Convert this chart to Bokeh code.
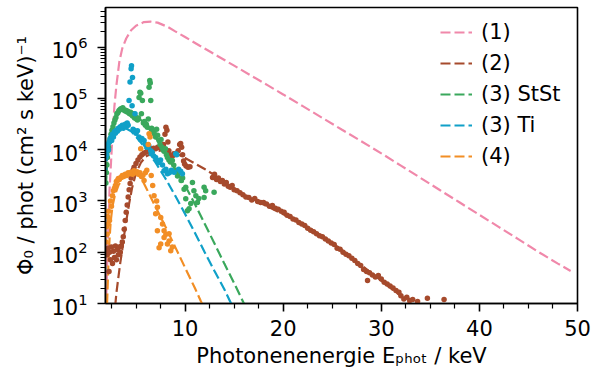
from bokeh.plotting import figure
from bokeh.models import Legend, LegendItem, FixedTicker, Range1d
from bokeh.embed import file_html
from bokeh.resources import INLINE

# ---------------- data (photon energy in keV, flux in phot/(cm^2 s keV)) ----------------
# (1) model curve
e1 = [1.93, 2.1, 2.3, 2.45, 2.6, 2.8, 3.0, 3.3, 3.6, 4.0, 4.5, 5.0, 5.8, 6.5, 7.2, 8.2, 9.0,
      10, 11.5, 13.3, 15, 16.7, 18.4, 20, 22, 24, 26, 28, 30, 32, 34, 36, 38, 40, 42, 44, 46, 48, 49.3]
f1 = [8, 100, 1600, 5600, 2.0e4, 7.1e4, 1.8e5, 5.2e5, 9.5e5, 1.48e6, 2.14e6, 2.63e6, 3.09e6, 3.16e6,
      3.02e6, 2.51e6, 2.04e6, 1.58e6, 1.07e6, 6.76e5, 4.37e5, 2.82e5, 1.82e5, 1.2e5, 7.08e4, 4.17e4, 2.45e4,
      1.45e4, 8.51e3, 4.9e3, 2.82e3, 1.62e3, 933, 537, 309, 178, 102, 60, 43]

# (2) model curve and measured points
e2 = [2.88, 3.0, 3.2, 3.4, 3.6, 3.8, 4.0, 4.3, 4.6, 5.0, 5.5, 6.0, 7.0, 8.0, 9.0, 10, 11, 12, 13, 14,
      16, 18, 20, 22, 24, 26, 28, 30, 32, 33, 34]
f2 = [9, 16, 32, 63, 112, 224, 400, 890, 1800, 3500, 5600, 7400, 9300, 10000, 8700, 6900, 5400, 4200,
      3200, 2300, 1300, 850, 550, 350, 204, 110, 55, 28, 14, 10, 7]
e2_pts = [1.95, 2.05, 2.15, 2.25, 2.3, 2.4, 2.5, 2.6, 2.7, 2.8, 2.9, 3.0, 3.1, 3.2, 3.3, 3.4, 3.5, 3.6,
          3.7, 3.8, 3.9, 4.0, 4.1, 4.2, 4.3, 4.4, 4.5, 4.6, 4.7, 4.8, 5.0, 5.2, 5.4, 5.6, 5.8, 6.0, 6.2,
          6.4, 6.6, 6.8, 7.0, 7.2, 7.4, 7.6, 7.8, 7.95, 8.05, 8.15, 8.25, 8.35, 8.5, 8.7, 8.9, 9.1, 9.3,
          9.45, 9.55, 9.65, 9.75, 9.85, 9.95, 10.1, 10.3, 10.5,
          12.8, 13.0, 13.2, 13.4, 13.6, 13.8, 14.0, 14.2, 14.4, 14.6, 14.8, 15.0, 15.3, 15.6, 15.9, 16.2,
          16.5, 16.8, 17.1, 17.4, 17.7, 18.0, 18.3, 18.6, 18.9, 19.2, 19.5, 19.8, 20.1, 20.4, 20.7, 21.0,
          21.3, 21.6, 21.9, 22.2, 22.5, 22.8, 23.1, 23.4, 23.7, 24.0, 24.3, 24.6, 24.9, 25.2, 25.5, 25.8,
          26.1, 26.4, 26.7, 27.0, 27.3, 27.6, 27.9, 28.2, 28.5, 28.6, 28.8, 29.1, 29.4, 29.7, 30.0, 30.3,
          30.6, 30.9, 31.2, 31.5, 31.8, 32.0, 32.3, 32.6, 32.9, 33.2, 33.7, 34.7, 36.4]
f2_pts = [112, 89, 120, 42, 100, 71, 126, 60, 105, 79, 132, 71, 112, 89, 126, 100, 132, 158,
          200, 282, 417, 603, 832, 1200, 1660, 2190, 2820, 3310, 3980, 4570, 5370, 6310, 7240, 7940, 8510, 8910, 9550,
          10000, 10500, 10700, 10500, 11200, 11000, 11500, 12600, 20000, 27500, 24000, 14100, 9550, 7940, 7590, 7940, 8510, 9550,
          12600, 13200, 11200, 7940, 6030, 5250, 4790, 4570, 4680,
          2880, 3310, 2630, 2820, 2400, 2510, 2140, 2290, 1950, 1860, 2000, 1660, 1580, 1450, 1320, 1200,
          1170, 1050, 1120, 977, 933, 933, 871, 794, 813, 724, 692, 631, 603, 525, 501, 447,
          427, 380, 355, 331, 295, 269, 251, 229, 209, 200, 182, 166, 151, 141, 120, 115,
          100, 91, 85, 76, 69, 60, 55, 46, 42, 28, 40, 36, 33, 35, 30, 26,
          24, 22, 20, 18, 16.6, 14.1, 12.3, 13.2, 11.5, 12.0, 11.0, 12.6, 12.0]

# (3) StSt model curve and measured points
e3s = [1.93, 2.05, 2.2, 2.4, 2.7, 3.0, 3.4, 3.8, 4.2, 4.8, 5.5, 6.2, 7.0, 8.0, 9.0, 10, 11, 12, 13, 14,
       15, 16, 16.3]
f3s = [2000, 5000, 10000, 16000, 32000, 46000, 59000, 63000, 60000, 50000, 38000, 27500, 17400, 8300,
       4200, 2000, 870, 360, 148, 60, 25, 10, 7.6]
e3s_pts = [1.93, 1.98, 2.03, 2.08, 2.14, 2.2, 2.28, 2.36, 2.45, 2.55, 2.65, 2.75, 2.85, 2.95, 3.05, 3.15,
           3.25, 3.35, 3.45, 3.55, 3.65, 3.75, 3.85, 3.95, 4.05, 4.15, 4.25, 4.35, 4.45, 4.55, 4.65, 4.75,
           4.85, 4.95, 5.05, 5.15, 5.25, 5.31, 5.4, 5.48, 5.55, 5.65, 5.75, 5.85, 5.95, 6.05, 6.15, 6.25,
           6.33, 6.4, 6.45, 6.5, 6.6, 6.7, 6.8, 6.9, 7.0, 7.1, 7.2, 7.35, 7.45, 7.55, 7.65, 7.75, 7.85,
           8.0, 8.1, 8.2, 8.35, 8.5, 8.7, 8.85, 9.0, 9.23, 9.23, 9.4, 9.6, 9.75, 9.9, 10.07, 10.07, 10.24,
           10.41, 10.58, 10.75, 10.9, 11.1, 11.26, 11.4, 11.94, 11.94, 12.1, 12.96]
f3s_pts = [2240, 3550, 5010, 7080, 9550, 11200, 14100, 16600, 20000, 24000, 28200, 33100, 38000, 42700, 50100, 52500,
           57500, 60300, 63100, 61700, 66100, 60300, 57500, 58900, 55000, 56200, 52500, 50100, 53700, 47900, 45700, 50100,
           41700, 43700, 39800, 38000, 41700, 105000, 132000, 126000, 50100, 91200, 33100, 35500, 30200, 31600, 27500, 39800,
           166000, 224000, 200000, 91200, 26300, 22400, 24000, 20000, 17800, 25100, 19100, 15100, 12600, 15800, 11200, 10000, 9330,
           10500, 7940, 7080, 6310, 5750, 6170, 5010, 3980, 3630, 3090, 3550, 2510, 2820, 1700, 1860, 1100, 646,
           708, 891, 2290, 1580, 1260, 933, 1120, 1170, 1860, 1580, 1480]

# (3) Ti model curve and measured points
e3t = [1.93, 2.0, 2.1, 2.3, 2.6, 3.0, 3.5, 4.0, 4.5, 5.0, 6.0, 7.0, 8.0, 9.0, 10, 11, 12, 13, 14, 14.8]
f3t = [3200, 5600, 8900, 13000, 18000, 23000, 26000, 26000, 23000, 18000, 10500, 5600, 2750, 1260,
       560, 240, 100, 43, 19, 9]
e3t_pts = [1.93, 1.97, 2.02, 2.07, 2.13, 2.2, 2.27, 2.35, 2.43, 2.52, 2.6, 2.7, 2.8, 2.9, 3.0, 3.1, 3.2,
           3.3, 3.4, 3.5, 3.6, 3.7, 3.8, 3.9, 4.0, 4.1, 4.2, 4.29, 4.39, 4.5, 4.54, 4.6, 4.64, 4.7, 4.8,
           4.9, 5.0, 5.15, 5.3, 5.45, 5.6, 5.82, 5.95, 6.1, 6.3, 6.5, 6.65, 6.8, 7.0, 7.18, 7.35, 7.5,
           7.7, 7.86, 8.05, 8.2, 8.4, 8.6, 8.88, 9.05, 9.15, 9.35, 9.55, 9.73]
f3t_pts = [7080, 10000, 7940, 11200, 12600, 10000, 14100, 15800, 17400, 15100, 20000, 17800, 22400, 20900, 24000, 22900, 26300,
           25100, 28200, 27500, 30200, 26300, 28800, 31600, 28200, 33100, 30200, 91200, 209000, 380000, 437000, 72400, 257000, 25100, 24000,
           50100, 20900, 23400, 17800, 15800, 16600, 15100, 12600, 11200, 12000, 9550, 8910, 7590, 7080, 6170, 5620, 6310,
           5010, 3890, 4170, 3390, 3550, 3980, 3630, 8320, 7940, 4170, 3800, 3390]

# (4) model curve and measured points
e4 = [2.05, 2.12, 2.2, 2.3, 2.42, 2.6, 2.85, 3.2, 3.6, 4.0, 4.5, 5.0, 5.5, 6.0, 7.0, 8.0, 9.0, 10, 11,
      11.6, 11.8]
f4 = [10, 25, 71, 178, 400, 790, 1300, 2000, 2700, 3200, 3500, 3500, 2900, 1860, 760, 316, 126, 50, 20,
      11.2, 9.3]
e4_pts = [1.95, 2.0, 2.05, 2.1, 2.15, 2.2, 2.3, 2.4, 2.5, 2.6, 2.7, 2.8, 2.9, 3.0, 3.1, 3.2, 3.3, 3.45,
          3.6, 3.75, 3.9, 4.05, 4.2, 4.35, 4.5, 4.65, 4.8, 4.95, 5.1, 5.25, 5.4, 5.48, 5.55, 5.7, 5.82,
          5.95, 6.1, 6.25, 6.33, 6.43, 6.55, 6.7, 6.84, 7.0, 7.1, 7.18, 7.18, 7.35, 7.52, 7.52, 7.7,
          7.86, 7.86, 8.05, 8.2, 8.37, 8.37, 8.54, 8.7]
f4_pts = [158, 316, 224, 501, 355, 631, 417, 1000, 794, 1260, 1580, 1780, 2000, 2400, 2510, 2750, 2630, 2880,
          3160, 3020, 3310, 3160, 3550, 3390, 3630, 3310, 3890, 3550, 3720, 3310, 3550, 10500, 3020, 3160, 2510,
          3550, 3980, 12600, 20400, 17800, 3160, 2000, 1260, 562, 1000, 759, 263, 123, 479, 145, 355,
          263, 195, 224, 145, 166, 229, 107, 126]

labels = ["(1)", "(2)", "(3) StSt", "(3) Ti", "(4)"]
x_major = [10, 20, 30, 40, 50]
y_major = [1e1, 1e2, 1e3, 1e4, 1e5, 1e6]

# ---------------- styling ----------------
C1, C2, C3, C4, C5 = "#f088aa", "#a64a2c", "#3aa85c", "#10a0c8", "#f28e25"
FONT = "DejaVu Sans"
FS = "21px"

p = figure(width=592, height=376, y_axis_type="log",
           x_range=Range1d(1.89, 50), y_range=Range1d(10, 5.96e6),
           output_backend="svg", toolbar_location=None,
           min_border_left=105, min_border_right=15, min_border_top=7, min_border_bottom=73)
p.background_fill_color = "white"
p.border_fill_color = "white"
p.xgrid.grid_line_color = None
p.ygrid.grid_line_color = None
p.outline_line_color = "black"
p.outline_line_width = 1.6
p.outline_line_alpha = 1.0

x_minor = [m * 2.5 for m in range(1, 20) if (m * 2.5) not in x_major]
y_minor = [k * 10 ** d for d in range(1, 7) for k in range(2, 10) if k * 10 ** d < 5.96e6]
p.xaxis.ticker = FixedTicker(ticks=x_major, minor_ticks=x_minor)
p.yaxis.ticker = FixedTicker(ticks=y_major, minor_ticks=y_minor)

for ax in (p.xaxis[0], p.yaxis[0]):
    ax.axis_line_width = 1.6
    ax.axis_line_color = "black"
    ax.major_tick_line_width = 1.6
    ax.minor_tick_line_width = 1.2
    ax.major_tick_line_color = "black"
    ax.minor_tick_line_color = "black"
    ax.major_tick_in = 0
    ax.major_tick_out = 8
    ax.minor_tick_in = 0
    ax.minor_tick_out = 5
    ax.major_label_text_font = FONT
    ax.major_label_text_font_size = FS
    ax.major_label_text_color = "black"
    ax.axis_label_text_font = FONT
    ax.axis_label_text_font_size = FS
    ax.axis_label_text_font_style = "normal"
    ax.axis_label_text_color = "black"

p.xaxis.major_label_standoff = 8
p.yaxis.major_label_standoff = 10
p.yaxis.axis_label = "Φ₀ / phot (cm² s keV)⁻¹"
p.yaxis.axis_label_standoff = 10
p.xaxis.axis_label = "Photonenenergie Eₚₕₒₜ / keV"
p.xaxis.axis_label_standoff = 5

# model curves
dash = "10 4"
r1 = p.line(e1, f1, line_color=C1, line_width=2.2, line_dash=dash)
r2 = p.line(e2, f2, line_color=C2, line_width=2.2, line_dash=dash)
r3 = p.line(e3s, f3s, line_color=C3, line_width=2.2, line_dash=dash)
r4 = p.line(e3t, f3t, line_color=C4, line_width=2.2, line_dash=dash)
r5 = p.line(e4, f4, line_color=C5, line_width=2.2, line_dash=dash)

# measured points
p.scatter(e2_pts, f2_pts, size=5.5, fill_color=C2, line_color=None)
p.scatter(e3s_pts, f3s_pts, size=5.5, fill_color=C3, line_color=None)
p.scatter(e3t_pts, f3t_pts, size=5.5, fill_color=C4, line_color=None)
p.scatter(e4_pts, f4_pts, size=5.5, fill_color=C5, line_color=None)

legend = Legend(items=[LegendItem(label=l, renderers=[r]) for l, r in zip(labels, [r1, r2, r3, r4, r5])],
                location="top_right", background_fill_alpha=0, border_line_alpha=0,
                label_text_font=FONT, label_text_font_size=FS, label_text_color="black",
                glyph_width=32, glyph_height=20, label_height=20, label_width=83, label_standoff=9,
                spacing=7, padding=10, margin=3)
p.add_layout(legend)

open("out.html", "w").write(file_html(p, INLINE))
